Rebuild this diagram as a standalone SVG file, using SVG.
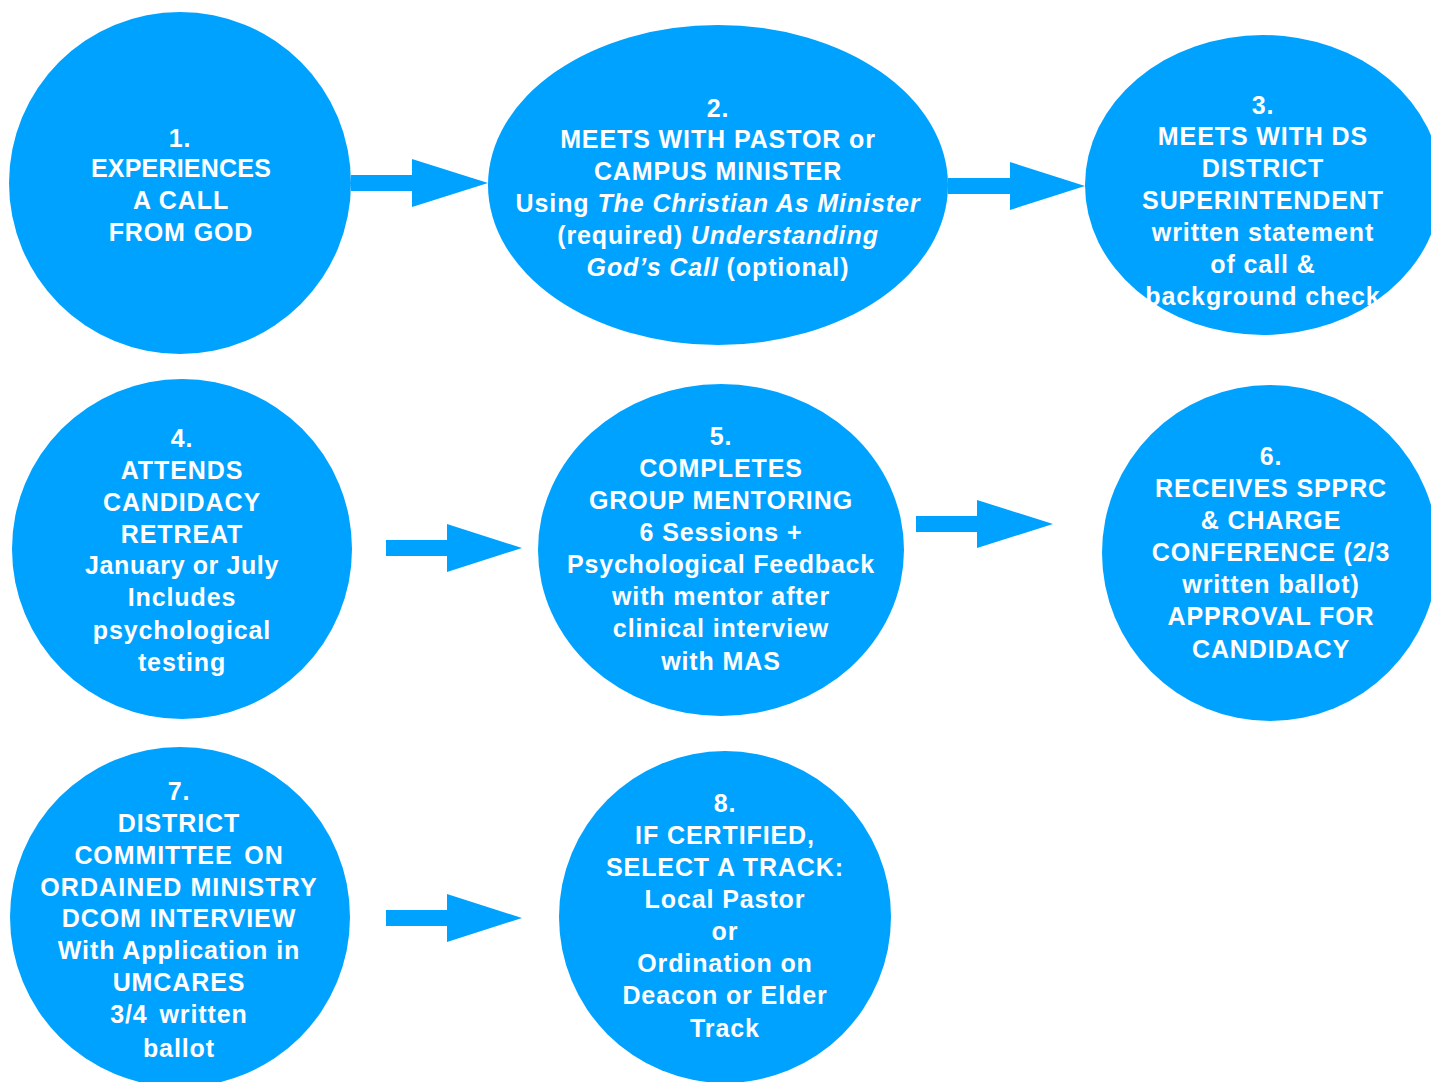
<svg xmlns="http://www.w3.org/2000/svg" width="1431" height="1082" viewBox="0 0 1431 1082">
<style>
.n{fill:#00A2FF}
.t{font-family:"Liberation Sans",Arial,sans-serif;font-weight:bold;font-size:25px;fill:#fff;text-anchor:middle;letter-spacing:0.9px}
.a{fill:#00A2FF}
</style>
<rect width="1431" height="1082" fill="#fff"/>
<g id="node1"><circle class="n" cx="180" cy="183" r="171"/>
<text class="t"><tspan x="180" y="147">1.</tspan><tspan x="181" y="177" letter-spacing="0.2">EXPERIENCES</tspan><tspan x="181" y="209">A CALL</tspan><tspan x="181" y="241">FROM GOD</tspan></text></g>
<g id="node2"><ellipse class="n" cx="718" cy="185" rx="230" ry="160"/>
<text class="t"><tspan x="718" y="117">2.</tspan><tspan x="718" y="148">MEETS WITH PASTOR or</tspan><tspan x="718" y="180">CAMPUS MINISTER</tspan><tspan x="718" y="212">Using <tspan font-style="italic">The Christian As Minister</tspan></tspan><tspan x="718" y="244">(required) <tspan font-style="italic">Understanding</tspan></tspan><tspan x="718" y="276"><tspan font-style="italic">God’s Call</tspan> (optional)</tspan></text></g>
<g id="node3"><ellipse class="n" cx="1263" cy="185" rx="178" ry="150"/>
<text class="t"><tspan x="1263" y="114">3.</tspan><tspan x="1263" y="145">MEETS WITH DS</tspan><tspan x="1263" y="177">DISTRICT</tspan><tspan x="1263" y="209">SUPERINTENDENT</tspan><tspan x="1263" y="241">written statement</tspan><tspan x="1263" y="273">of call &amp;</tspan><tspan x="1263" y="305">background check</tspan></text></g>
<g id="node4"><circle class="n" cx="182" cy="549" r="170"/>
<text class="t"><tspan x="182" y="447">4.</tspan><tspan x="182" y="479">ATTENDS</tspan><tspan x="182" y="511">CANDIDACY</tspan><tspan x="182" y="543">RETREAT</tspan><tspan x="182" y="574" letter-spacing="0.6">January or July</tspan><tspan x="182" y="606">Includes</tspan><tspan x="182" y="639">psychological</tspan><tspan x="182" y="671">testing</tspan></text></g>
<g id="node5"><ellipse class="n" cx="721" cy="550" rx="183" ry="166"/>
<text class="t"><tspan x="721" y="445">5.</tspan><tspan x="721" y="477">COMPLETES</tspan><tspan x="721" y="509">GROUP MENTORING</tspan><tspan x="721" y="541">6 Sessions +</tspan><tspan x="721" y="573" letter-spacing="0.8">Psychological Feedback</tspan><tspan x="721" y="605">with mentor after</tspan><tspan x="721" y="637">clinical interview</tspan><tspan x="721" y="670">with MAS</tspan></text></g>
<g id="node6"><ellipse class="n" cx="1270" cy="553" rx="168" ry="168"/>
<text class="t"><tspan x="1271" y="465">6.</tspan><tspan x="1271" y="497">RECEIVES SPPRC</tspan><tspan x="1271" y="529">&amp; CHARGE</tspan><tspan x="1271" y="561">CONFERENCE (2/3</tspan><tspan x="1271" y="593">written ballot)</tspan><tspan x="1271" y="625">APPROVAL FOR</tspan><tspan x="1271" y="658">CANDIDACY</tspan></text></g>
<g id="node7"><circle class="n" cx="180" cy="917" r="170"/>
<text class="t"><tspan x="179" y="800">7.</tspan><tspan x="179" y="832">DISTRICT</tspan><tspan x="179" y="864" word-spacing="4">COMMITTEE ON</tspan><tspan x="179" y="896" letter-spacing="1.1">ORDAINED MINISTRY</tspan><tspan x="179" y="927">DCOM INTERVIEW</tspan><tspan x="179" y="959">With Application in</tspan><tspan x="179" y="991">UMCARES</tspan><tspan x="179" y="1023" word-spacing="4">3/4 written</tspan><tspan x="179" y="1057">ballot</tspan></text></g>
<g id="node8"><ellipse class="n" cx="725" cy="917" rx="166" ry="166"/>
<text class="t"><tspan x="725" y="812">8.</tspan><tspan x="725" y="844">IF CERTIFIED,</tspan><tspan x="725" y="876">SELECT A TRACK:</tspan><tspan x="725" y="908">Local Pastor</tspan><tspan x="725" y="940">or</tspan><tspan x="725" y="972">Ordination on</tspan><tspan x="725" y="1004">Deacon or Elder</tspan><tspan x="725" y="1037">Track</tspan></text></g>
<g id="connectors">
<polygon class="a" points="351,175 412,175 412,159 488,183 412,207 412,191 351,191"/>
<polygon class="a" points="948,178 1010,178 1010,162 1085,186 1010,210 1010,194 948,194"/>
<polygon class="a" points="386,540 447,540 447,524 522,548 447,572 447,556 386,556"/>
<polygon class="a" points="916,516 977,516 977,500 1053,524 977,548 977,532 916,532"/>
<polygon class="a" points="386,910 447,910 447,894 522,918 447,942 447,926 386,926"/>
</g>
</svg>
